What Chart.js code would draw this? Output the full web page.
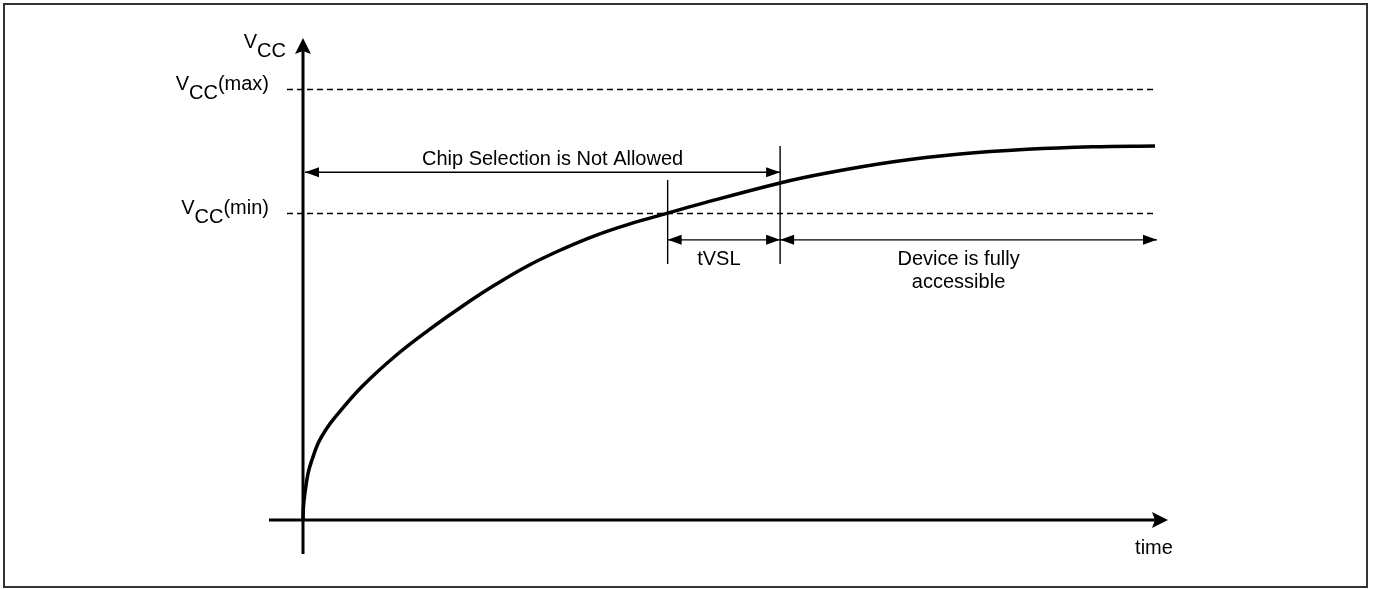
<!DOCTYPE html>
<html>
<head>
<meta charset="utf-8">
<script src="https://cdn.jsdelivr.net/npm/chart.js@4/dist/chart.umd.min.js"></script>
<style>
    html, body { margin: 0; padding: 0; background: #fff; }
    #wrap { width: 1373px; height: 589px; position: relative; }
</style>
</head>
<body>
<div id="wrap"><canvas id="vcc-chart"></canvas></div>
<script>
// Vcc power-up curve (time in arbitrary units, Vcc as a fraction of Vcc(max))
const timeValues = [0, 0.005, 0.023, 0.06, 0.11, 0.18, 0.27, 0.38, 0.69, 1.08, 1.47, 1.87, 2.25, 2.64, 3.04, 3.43, 3.82, 4.28, 4.60, 5.60, 6.15, 6.93, 7.71, 8.50, 9.27, 10];
const vccValues = [0, 0.03, 0.063, 0.109, 0.142, 0.179, 0.21, 0.239, 0.309, 0.38, 0.44, 0.496, 0.545, 0.59, 0.628, 0.66, 0.686, 0.712, 0.73, 0.782, 0.805, 0.831, 0.849, 0.86, 0.866, 0.868];

// reference levels and timing marks
const levelNames = ["(max)", "(min)"];
const levelValues = [1.0, 0.712];
const markTimes = [4.28, 5.6];       // Vcc(min) reached, device accessible
const markTops = [0.789, 0.868];     // top of each marker line
const markBottom = 0.594;
const chipArrowLevel = 0.807;
const tvslArrowLevel = 0.65;
const timeEnd = 10;

const chipLabel = "Chip Selection is Not Allowed";
const tvslLabel = "tVSL";
const deviceLabel = ["Device is fully", "accessible"];
const xAxisLabel = "time";

const FONT = '20px "Liberation Sans", Arial, sans-serif';

function arrowHead(ctx, x, y, angle, len, half, notch) {
    ctx.save();
    ctx.translate(x, y);
    ctx.rotate(angle);
    ctx.beginPath();
    ctx.moveTo(0, 0);
    ctx.lineTo(-len, -half);
    ctx.lineTo(-len + notch, 0);
    ctx.lineTo(-len, half);
    ctx.closePath();
    ctx.fill();
    ctx.restore();
}

function line(ctx, x1, y1, x2, y2) {
    ctx.beginPath();
    ctx.moveTo(x1, y1);
    ctx.lineTo(x2, y2);
    ctx.stroke();
}

// "V" + subscript "CC" + optional suffix, right aligned at rightX
function vccText(ctx, rightX, baseline, suffix) {
    ctx.font = FONT;
    ctx.textAlign = "left";
    const wV = ctx.measureText("V").width;
    const wCC = ctx.measureText("CC").width;
    const wS = suffix ? ctx.measureText(suffix).width : 0;
    let x = rightX - wV - wCC - wS;
    ctx.fillText("V", x, baseline);
    x += wV;
    ctx.fillText("CC", x, baseline + 9);
    x += wCC;
    if (suffix) ctx.fillText(suffix, x, baseline);
}

const diagram = {
    id: "diagram",
    beforeDatasetsDraw(chart) {
        const ctx = chart.ctx;
        const xs = chart.scales.x;
        const ys = chart.scales.y;
        const x0 = xs.getPixelForValue(0);
        const y0 = ys.getPixelForValue(0);
        const xEnd = xs.getPixelForValue(timeEnd);

        ctx.save();
        // outer frame
        ctx.strokeStyle = "#333";
        ctx.lineWidth = 2;
        ctx.strokeRect(4, 4, 1363, 583);

        // dashed Vcc(max) / Vcc(min) levels
        ctx.strokeStyle = "#000";
        ctx.lineWidth = 1.3;
        ctx.setLineDash([6, 4]);
        levelValues.forEach((v) => {
            const y = Math.round(ys.getPixelForValue(v)) + 0.5;
            line(ctx, x0 - 16, y, xEnd, y);
        });
        ctx.setLineDash([]);

        // axes
        ctx.fillStyle = "#000";
        ctx.lineWidth = 3;
        line(ctx, x0, y0 + 34, x0, 44);
        arrowHead(ctx, x0, 38, -Math.PI / 2, 16, 8, 3);
        line(ctx, x0 - 34, y0, xEnd + 6, y0);
        arrowHead(ctx, xEnd + 13, y0, 0, 16, 8, 3);

        // texts on the axes
        ctx.font = FONT;
        vccText(ctx, x0 - 17, 48, "");
        levelValues.forEach((v, i) => {
            vccText(ctx, x0 - 34, ys.getPixelForValue(v) + 1, levelNames[i]);
        });
        ctx.textAlign = "center";
        ctx.fillText(xAxisLabel, xEnd - 1, y0 + 34);
        ctx.restore();
    },
    afterDatasetsDraw(chart) {
        const ctx = chart.ctx;
        const xs = chart.scales.x;
        const ys = chart.scales.y;
        const x0 = xs.getPixelForValue(0);
        const xEnd = xs.getPixelForValue(timeEnd);
        const xMin = xs.getPixelForValue(markTimes[0]);
        const xAcc = xs.getPixelForValue(markTimes[1]);
        const yBottom = ys.getPixelForValue(markBottom);
        const yChip = ys.getPixelForValue(chipArrowLevel);
        const yTvsl = ys.getPixelForValue(tvslArrowLevel);

        ctx.save();
        ctx.strokeStyle = "#000";
        ctx.fillStyle = "#000";
        ctx.lineWidth = 1.4;

        // marker lines
        markTimes.forEach((t, i) => {
            const x = xs.getPixelForValue(t);
            line(ctx, x, ys.getPixelForValue(markTops[i]), x, yBottom);
        });

        // Chip selection arrow
        line(ctx, x0 + 2, yChip, xAcc, yChip);
        arrowHead(ctx, x0 + 2, yChip, Math.PI, 14, 5, 0);
        arrowHead(ctx, xAcc, yChip, 0, 14, 5, 0);

        // tVSL arrow
        line(ctx, xMin, yTvsl, xAcc, yTvsl);
        arrowHead(ctx, xMin, yTvsl, Math.PI, 14, 5, 0);
        arrowHead(ctx, xAcc, yTvsl, 0, 14, 5, 0);

        // Device accessible arrow
        line(ctx, xAcc, yTvsl, xEnd + 2, yTvsl);
        arrowHead(ctx, xAcc, yTvsl, Math.PI, 14, 5, 0);
        arrowHead(ctx, xEnd + 2, yTvsl, 0, 14, 5, 0);

        ctx.font = FONT;
        ctx.textAlign = "center";
        ctx.fillText(chipLabel, (x0 + xAcc) / 2 + 11, yChip - 7);
        ctx.fillText(tvslLabel, (xMin + xAcc) / 2 - 5, yTvsl + 25);
        ctx.fillText(deviceLabel[0], (xAcc + xEnd) / 2 - 9, yTvsl + 25);
        ctx.fillText(deviceLabel[1], (xAcc + xEnd) / 2 - 9, yTvsl + 48);
        ctx.restore();
    },
};

const points = timeValues.map((t, i) => ({ x: t, y: vccValues[i] }));

new Chart(document.getElementById("vcc-chart"), {
    type: "line",
    data: {
        datasets: [
            {
                label: "Vcc",
                data: points,
                borderColor: "#000",
                borderWidth: 3.5,
                borderJoinStyle: "round",
                pointRadius: 0,
                tension: 0.4,
                fill: false,
                clip: false,
            },
        ],
    },
    options: {
        responsive: true,
        maintainAspectRatio: false,
        animation: false,
        layout: {
            padding: { left: 303, right: 218, top: 89, bottom: 69 },
        },
        scales: {
            x: { type: "linear", min: 0, max: timeEnd, display: false },
            y: { type: "linear", min: 0, max: 1, display: false },
        },
        plugins: {
            legend: { display: false },
            tooltip: { enabled: false },
        },
    },
    plugins: [diagram],
});
</script>
</body>
</html>
